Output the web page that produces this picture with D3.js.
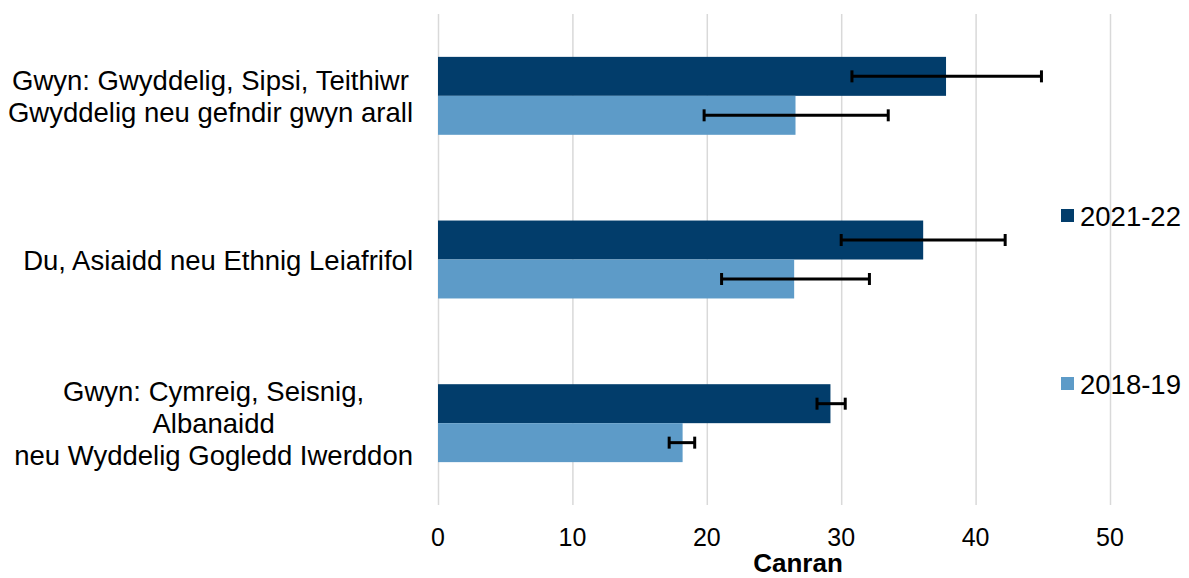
<!DOCTYPE html>
<html>
<head>
<meta charset="utf-8">
<script src="https://cdn.jsdelivr.net/npm/d3@7"></script>
<style>
  body { margin: 0; background: #fff; }
  svg { display: block; font-family: Arial, "Liberation Sans", sans-serif; }
</style>
</head>
<body>
<svg id="chart" width="1189" height="578"></svg>
<script>
// categories top to bottom, lines split for the wrapped labels
const categories = [
  ["Gwyn: Gwyddelig, Sipsi, Teithiwr", "Gwyddelig neu gefndir gwyn arall"],
  ["Du, Asiaidd neu Ethnig Leiafrifol"],
  ["Gwyn: Cymreig, Seisnig,", "Albanaidd", "neu Wyddelig Gogledd Iwerddon"],
];
const seriesNames = ["2021-22", "2018-19"];
const values2122 = [37.8, 36.1, 29.2];
const low2122 = [30.8, 30.0, 28.2];
const high2122 = [44.9, 42.2, 30.3];
const values1819 = [26.6, 26.5, 18.2];
const low1819 = [19.8, 21.1, 17.2];
const high1819 = [33.5, 32.1, 19.1];
const xTicks = [0, 10, 20, 30, 40, 50];
const colors = ["#023d6b", "#5d9bc8"];

const svg = d3.select("#chart");
const catKeys = categories.map((c) => c.join(" "));

const x = d3.scaleLinear().domain([0, 50]).range([438, 1110]);
const y = d3.scaleBand().domain(catKeys).range([14, 505]);
const ySub = d3.scaleBand().domain(seriesNames).range([0, y.bandwidth()]).paddingOuter(1.1);

const rows = [];
catKeys.forEach((k, i) => {
  rows.push({ key: k, series: "2021-22", v: values2122[i], lo: low2122[i], hi: high2122[i] });
  rows.push({ key: k, series: "2018-19", v: values1819[i], lo: low1819[i], hi: high1819[i] });
});

// grid
svg.append("g")
  .attr("transform", "translate(0,505)")
  .call(d3.axisBottom(x).tickValues(xTicks).tickSize(-491).tickFormat(""))
  .call((g) => g.select(".domain").remove())
  .call((g) => g.selectAll(".tick line").attr("stroke", "#d9d9d9").attr("stroke-width", 1.5));

// tick labels
svg.append("g")
  .selectAll("text")
  .data(xTicks)
  .enter()
  .append("text")
  .attr("x", (d) => x(d))
  .attr("y", 546)
  .attr("text-anchor", "middle")
  .style("font-size", "25px")
  .style("fill", "#000")
  .text((d) => d);

svg.append("text")
  .attr("x", 798)
  .attr("y", 572)
  .attr("text-anchor", "middle")
  .style("font-size", "26px")
  .style("font-weight", "bold")
  .text("Canran");

// bars
svg.append("g")
  .selectAll("rect")
  .data(rows)
  .enter()
  .append("rect")
  .attr("x", x(0))
  .attr("y", (d) => y(d.key) + ySub(d.series))
  .attr("width", (d) => x(d.v) - x(0))
  .attr("height", ySub.bandwidth())
  .style("fill", (d) => colors[seriesNames.indexOf(d.series)]);

// error bars
const err = svg.append("g").selectAll("g").data(rows).enter().append("g")
  .attr("transform", (d) => `translate(0,${y(d.key) + ySub(d.series) + ySub.bandwidth() / 2})`);
err.append("line")
  .attr("x1", (d) => x(d.lo)).attr("x2", (d) => x(d.hi))
  .attr("stroke", "#000").attr("stroke-width", 3);
err.append("line")
  .attr("x1", (d) => x(d.lo)).attr("x2", (d) => x(d.lo))
  .attr("y1", -6).attr("y2", 6)
  .attr("stroke", "#000").attr("stroke-width", 3);
err.append("line")
  .attr("x1", (d) => x(d.hi)).attr("x2", (d) => x(d.hi))
  .attr("y1", -6).attr("y2", 6)
  .attr("stroke", "#000").attr("stroke-width", 3);

// category labels, centred lines, block right edge near 413
const lineH = 32;
categories.forEach((lines, i) => {
  const cy = y(catKeys[i]) + y.bandwidth() / 2;
  const t = svg.append("text")
    .attr("text-anchor", "middle")
    .style("font-size", "27.5px")
    .style("fill", "#000");
  lines.forEach((ln, j) => {
    t.append("tspan")
      .attr("y", cy + (j - (lines.length - 1) / 2) * lineH + 10)
      .text(ln);
  });
  let maxW = 0;
  t.selectAll("tspan").each(function () {
    maxW = Math.max(maxW, this.getComputedTextLength());
  });
  t.selectAll("tspan").attr("x", 413 - maxW / 2);
});

// legend
const leg = svg.append("g").selectAll("g").data(seriesNames).enter().append("g")
  .attr("transform", (d, i) => `translate(1061,${[216, 384][i]})`);
leg.append("rect")
  .attr("x", 0).attr("y", -7).attr("width", 13).attr("height", 13)
  .style("fill", (d, i) => colors[i]);
leg.append("text")
  .attr("x", 19).attr("y", 9.5)
  .style("font-size", "27.5px")
  .text((d) => d);
</script>
</body>
</html>
